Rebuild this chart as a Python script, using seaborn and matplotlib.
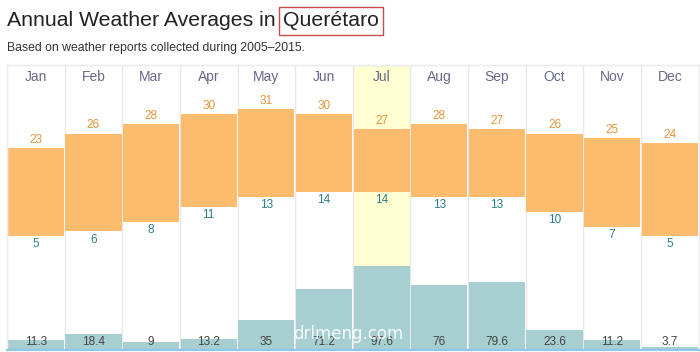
import matplotlib
matplotlib.use("Agg")
import matplotlib.pyplot as plt
import matplotlib.transforms as mtransforms
import seaborn as sns
import pandas as pd

months = ["Jan", "Feb", "Mar", "Apr", "May", "Jun", "Jul", "Aug", "Sep", "Oct", "Nov", "Dec"]
high_c = [23, 26, 28, 30, 31, 30, 27, 28, 27, 26, 25, 24]
low_c = [5, 6, 8, 11, 13, 14, 14, 13, 13, 10, 7, 5]
precip_mm = [11.3, 18.4, 9, 13.2, 35, 71.2, 97.6, 76, 79.6, 23.6, 11.2, 3.7]
highlight_month = "Jul"

sns.set_theme(style="white")
plt.rcParams["font.family"] = ["Liberation Sans", "DejaVu Sans"]

fig = plt.figure(figsize=(7, 3.52), dpi=100)
ax = fig.add_axes([0.01, 2 / 352, 0.988, 285 / 352])
ax2 = ax.twinx()

x = list(range(len(months)))

# month columns
ax.set_xlim(-0.5, len(months) - 0.5)
ax.set_ylim(-18.2, 40)
hi = months.index(highlight_month)
ax.axvspan(hi - 0.5, hi + 0.5, color="#ffffd2", zorder=0, lw=0)
for b in range(1, len(months)):
    ax.axvline(b - 0.5, color="#e8e8e8", lw=1, zorder=0.5)

# temperature range bars
heights = [h - l for h, l in zip(high_c, low_c)]
ax.bar(x, heights, bottom=low_c, width=0.975, color="#fdbb6e", zorder=2, lw=0)
for i in x:
    ax.annotate(str(high_c[i]), (i, high_c[i]), xytext=(0, 1.5), textcoords="offset points",
                ha="center", va="bottom", fontsize=8.5, color="#e3953a")
    ax.annotate(str(low_c[i]), (i, low_c[i]), xytext=(0, -1.5), textcoords="offset points",
                ha="center", va="top", fontsize=8.5, color="#2c7f8c")

# precipitation bars
df = pd.DataFrame({"month": months, "precip": precip_mm})
sns.barplot(data=df, x="month", y="precip", ax=ax2, color="#a7cfd2", saturation=1,
            width=0.975, linewidth=0, zorder=2)
ax2.set_xlim(-0.5, len(months) - 0.5)
ax2.set_ylim(0, 333)
trans = mtransforms.blended_transform_factory(ax2.transData, ax2.transAxes)
for i in x:
    ax2.text(i, 0.028, f"{precip_mm[i]:g}", transform=trans, ha="center", va="center",
             fontsize=8.5, color="#444444")
    ax2.text(i, 0.958, months[i], transform=trans, ha="center", va="center",
             fontsize=10, color="#666a8a")

for a in (ax, ax2):
    a.set_xticks([])
    a.set_yticks([])
    a.set_xlabel("")
    a.set_ylabel("")
    for s in ("left", "right", "top"):
        a.spines[s].set_color("#ececec")
        a.spines[s].set_linewidth(1)
    a.spines["bottom"].set_color("#8ec6e6")
    a.spines["bottom"].set_linewidth(1.5)

# titles
fig.text(7 / 700, 1 - 21 / 352, "Annual Weather Averages in", fontsize=15.3, color="#222222",
         ha="left", va="center")
fig.text(283 / 700, 1 - 21 / 352, "Querétaro", fontsize=15.3, color="#222222", ha="left", va="center",
         bbox=dict(boxstyle="square,pad=0.2", facecolor="none", edgecolor="#c94a4a", lw=1))
fig.text(7 / 700, 1 - 48 / 352, "Based on weather reports collected during 2005–2015.",
         fontsize=8.85, color="#333333", ha="left", va="center")

# watermark
fig.text(348 / 700, 1 - 334 / 352, "drlmeng.com", fontsize=12, color="white", alpha=0.9,
         ha="center", va="center", family=["DejaVu Sans"])

fig.savefig("out.png", dpi=100)
